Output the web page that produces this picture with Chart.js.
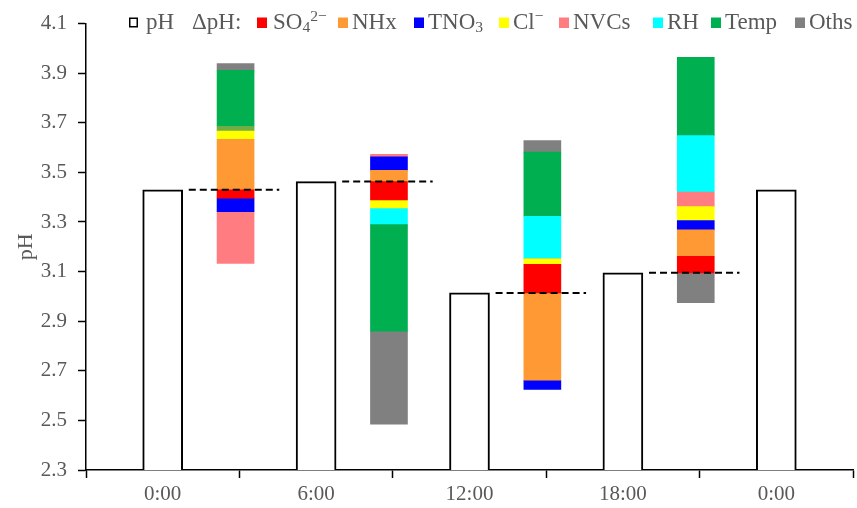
<!DOCTYPE html>
<html>
<head>
<meta charset="utf-8">
<script src="https://cdn.jsdelivr.net/npm/chart.js@4"></script>
<style>
  body { margin: 0; background: #fff; }
  #wrap { width: 857px; height: 508px; }
</style>
</head>
<body>
<div id="wrap"><canvas id="myChart" width="857" height="508"></canvas></div>
<script>
// time labels under the pH bars
const timeLabels = ["0:00", "6:00", "12:00", "18:00", "0:00"];
// pH at each time
const phValues = [3.430, 3.463, 3.014, 3.095, 3.430];

// ΔpH contributions for each 6 h interval (0-6, 6-12, 12-18, 18-24)
const so4  = [-0.034, -0.074, 0.115, 0.067];
const nhx  = [0.203, 0.045, -0.352, 0.106];
const tno3 = [-0.054, 0.055, -0.037, 0.038];
const cl   = [0.034, -0.032, 0.022, 0.056];
const nvcs = [-0.209, 0.010, 0.000, 0.059];
const rh   = [0.019, -0.065, 0.172, 0.227];
const temp = [0.226, -0.432, 0.259, 0.316];
const oths = [0.027, -0.375, 0.046, -0.120];

const yTicksMin = 2.3;
const yTicksMax = 4.1;
const yStep = 0.2;

const components = [
    { name: "SO4", values: so4,  color: "#FF0000", label: [["SO", 0], ["4", 1], ["2\u2212", 2]] },
    { name: "NHx", values: nhx,  color: "#FF9933", label: [["NHx", 0]] },
    { name: "TNO3", values: tno3, color: "#0000FF", label: [["TNO", 0], ["3", 1]] },
    { name: "Cl", values: cl,   color: "#FFFF00", label: [["Cl", 0], ["\u2212", 2]] },
    { name: "NVCs", values: nvcs, color: "#FF7C80", label: [["NVCs", 0]] },
    { name: "RH", values: rh,   color: "#00FFFF", label: [["RH", 0]] },
    { name: "Temp", values: temp, color: "#00B050", label: [["Temp", 0]] },
    { name: "Oths", values: oths, color: "#808080", label: [["Oths", 0]] }
];

const FONT = '"Liberation Serif", "Times New Roman", serif';
const TEXT = "#595959";
const stepOffset = 0.475;

// build the floating waterfall segments: positives stack up from the start pH, negatives down
const posTop = phValues.slice(0, 4);
const negBottom = phValues.slice(0, 4);
const componentDatasets = components.map(c => {
    const data = c.values.map((v, j) => {
        let seg;
        if (v >= 0) {
            seg = [posTop[j], posTop[j] + v];
            posTop[j] += v;
        } else {
            seg = [negBottom[j] + v, negBottom[j]];
            negBottom[j] += v;
        }
        return { x: j + stepOffset, y: seg };
    });
    let bg = c.color;
    if (c.name === "RH") bg = ["#70AD47", c.color, c.color, c.color];
    return {
        type: "bar",
        label: c.name,
        data: data,
        backgroundColor: bg,
        borderWidth: 0,
        barThickness: 37,
        grouped: false,
        order: 2
    };
});

// dashed reference lines at the starting pH of each interval
const dashData = [];
for (let j = 0; j < 4; j++) {
    dashData.push({ x: j + 0.17, y: phValues[j] });
    dashData.push({ x: j + 0.76, y: phValues[j] });
    dashData.push({ x: j + 0.9, y: null });
}

function drawRich(ctx, parts, x, y, size) {
    parts.forEach(p => {
        const mode = p[1];
        let s = size, dy = 0;
        if (mode === 1) { s = size * 0.68; dy = 3; }
        if (mode === 2) { s = size * 0.68; dy = -8; }
        ctx.font = s + "px " + FONT;
        ctx.fillText(p[0], x, y + dy);
        x += ctx.measureText(p[0]).width;
    });
    return x;
}

// legend drawn over the top of the plot, as in the original figure
const legendSquares = [257, 338, 414, 499, 559, 653, 711, 795];
const legendPlugin = {
    id: "phLegend",
    afterDraw(chart) {
        const ctx = chart.ctx;
        const size = 23;
        const base = 29;
        ctx.save();
        ctx.textBaseline = "alphabetic";
        ctx.strokeStyle = "#000";
        ctx.lineWidth = 1.5;
        ctx.fillStyle = "#fff";
        ctx.fillRect(129, 17.5, 9, 10);
        ctx.strokeRect(129.75, 18.25, 7.5, 8.5);
        ctx.fillStyle = TEXT;
        drawRich(ctx, [["pH", 0]], 146, base, size);
        drawRich(ctx, [["\u0394pH:", 0]], 192, base, size);
        components.forEach((c, k) => {
            const x = legendSquares[k];
            ctx.fillStyle = c.color;
            ctx.fillRect(x, 17.5, 10, 10.5);
            ctx.fillStyle = TEXT;
            drawRich(ctx, c.label, x + (k === 0 ? 16 : 14), base, size);
        });
        ctx.restore();
    }
};

const isWhole = v => Math.abs(v - Math.round(v)) < 1e-6;

const ctx = document.getElementById("myChart").getContext("2d");
new Chart(ctx, {
    data: {
        datasets: [
            {
                type: "line",
                label: "start pH",
                data: dashData,
                borderColor: "#000",
                borderWidth: 2,
                borderDash: [7, 4],
                pointRadius: 0,
                spanGaps: false,
                order: 0
            },
            {
                type: "bar",
                label: "pH",
                data: phValues.map((v, i) => ({ x: i, y: [yTicksMin, v] })),
                backgroundColor: "#fff",
                borderColor: "#000",
                borderWidth: 2,
                borderSkipped: "start",
                barThickness: 40,
                grouped: false,
                order: 1
            },
            ...componentDatasets
        ]
    },
    plugins: [legendPlugin],
    options: {
        responsive: false,
        animation: false,
        devicePixelRatio: 1,
        layout: { padding: { top: 22, right: 2, left: 0, bottom: 0 } },
        plugins: {
            legend: { display: false },
            tooltip: { enabled: false }
        },
        scales: {
            x: {
                type: "linear",
                min: -0.5,
                max: 4.5,
                offset: false,
                afterFit: scale => { scale.height = 38; },
                border: { color: "#000", width: 1.5 },
                grid: {
                    offset: false,
                    drawOnChartArea: false,
                    tickLength: 8,
                    tickWidth: 1.5,
                    tickColor: c => (c.tick && isWhole(c.tick.value)) ? "rgba(0,0,0,0)" : "#000"
                },
                ticks: {
                    stepSize: 0.5,
                    autoSkip: false,
                    maxRotation: 0,
                    padding: 4,
                    color: TEXT,
                    font: { family: FONT, size: 21 },
                    callback: v => isWhole(v) ? timeLabels[Math.round(v)] : ""
                }
            },
            y: {
                min: yTicksMin,
                max: yTicksMax,
                afterFit: scale => { scale.width = 86; },
                border: { color: "#000", width: 1.5 },
                grid: {
                    drawOnChartArea: false,
                    tickLength: 8,
                    tickWidth: 1.5,
                    tickColor: "#000"
                },
                ticks: {
                    stepSize: yStep,
                    padding: 11,
                    color: TEXT,
                    font: { family: FONT, size: 21 },
                    callback: v => v.toFixed(1)
                },
                title: {
                    display: true,
                    text: "pH",
                    color: TEXT,
                    font: { family: FONT, size: 22 },
                    padding: { top: 13, bottom: 0 }
                }
            }
        }
    }
});
</script>
</body>
</html>
